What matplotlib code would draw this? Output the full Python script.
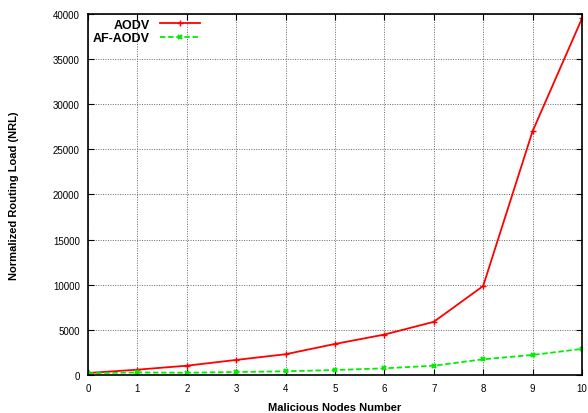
import matplotlib.pyplot as plt

plt.rcParams['font.family'] = ['Liberation Sans', 'DejaVu Sans']

nodes = [0, 1, 2, 3, 4, 5, 6, 7, 8, 9, 10]
aodv = [220, 590, 1030, 1670, 2300, 3440, 4480, 5890, 9860, 27000, 39500]
af_aodv = [200, 280, 250, 330, 410, 550, 740, 1030, 1740, 2220, 2890]

fig = plt.figure(figsize=(5.88, 4.14), dpi=100)
ax = fig.add_axes([0.1497, 0.0918, 0.84, 0.872])

ax.plot(nodes, aodv, color='#ff0000', lw=1.3, marker='+', ms=4, mew=1, label='AODV')
ax.plot(nodes, af_aodv, color='#00ee00', lw=1.3, ls=(0, (3, 1.5)), marker='x', ms=3.5, mew=1.5,
        label='AF-AODV')

ax.set_xlim(0, 10)
ax.set_ylim(0, 40000)
ax.set_xticks(nodes)
ax.set_yticks(range(0, 40001, 5000))
ax.tick_params(direction='in', top=True, right=True, labelsize=7, length=4, pad=6)
ax.grid(True, color='#666666', ls=(0, (1, 1.5)), lw=0.7)
for s in ax.spines.values():
    s.set_linewidth(1.2)

ax.set_xlabel('Malicious Nodes Number', fontsize=8, fontweight='bold', labelpad=6)
ax.set_ylabel('Normalized Routing Load (NRL)', fontsize=8, fontweight='bold', labelpad=24)

leg = ax.legend(loc='upper left', bbox_to_anchor=(-0.01, 1.015), frameon=False, markerfirst=False,
                prop={'weight': 'bold', 'size': 9}, handlelength=3.2, borderpad=0.3,
                labelspacing=0.15, handletextpad=0.8)
for t in leg.get_texts():
    t.set_ha('right')
leg._legend_box.align = 'right'

fig.savefig('out.png', dpi=100)
